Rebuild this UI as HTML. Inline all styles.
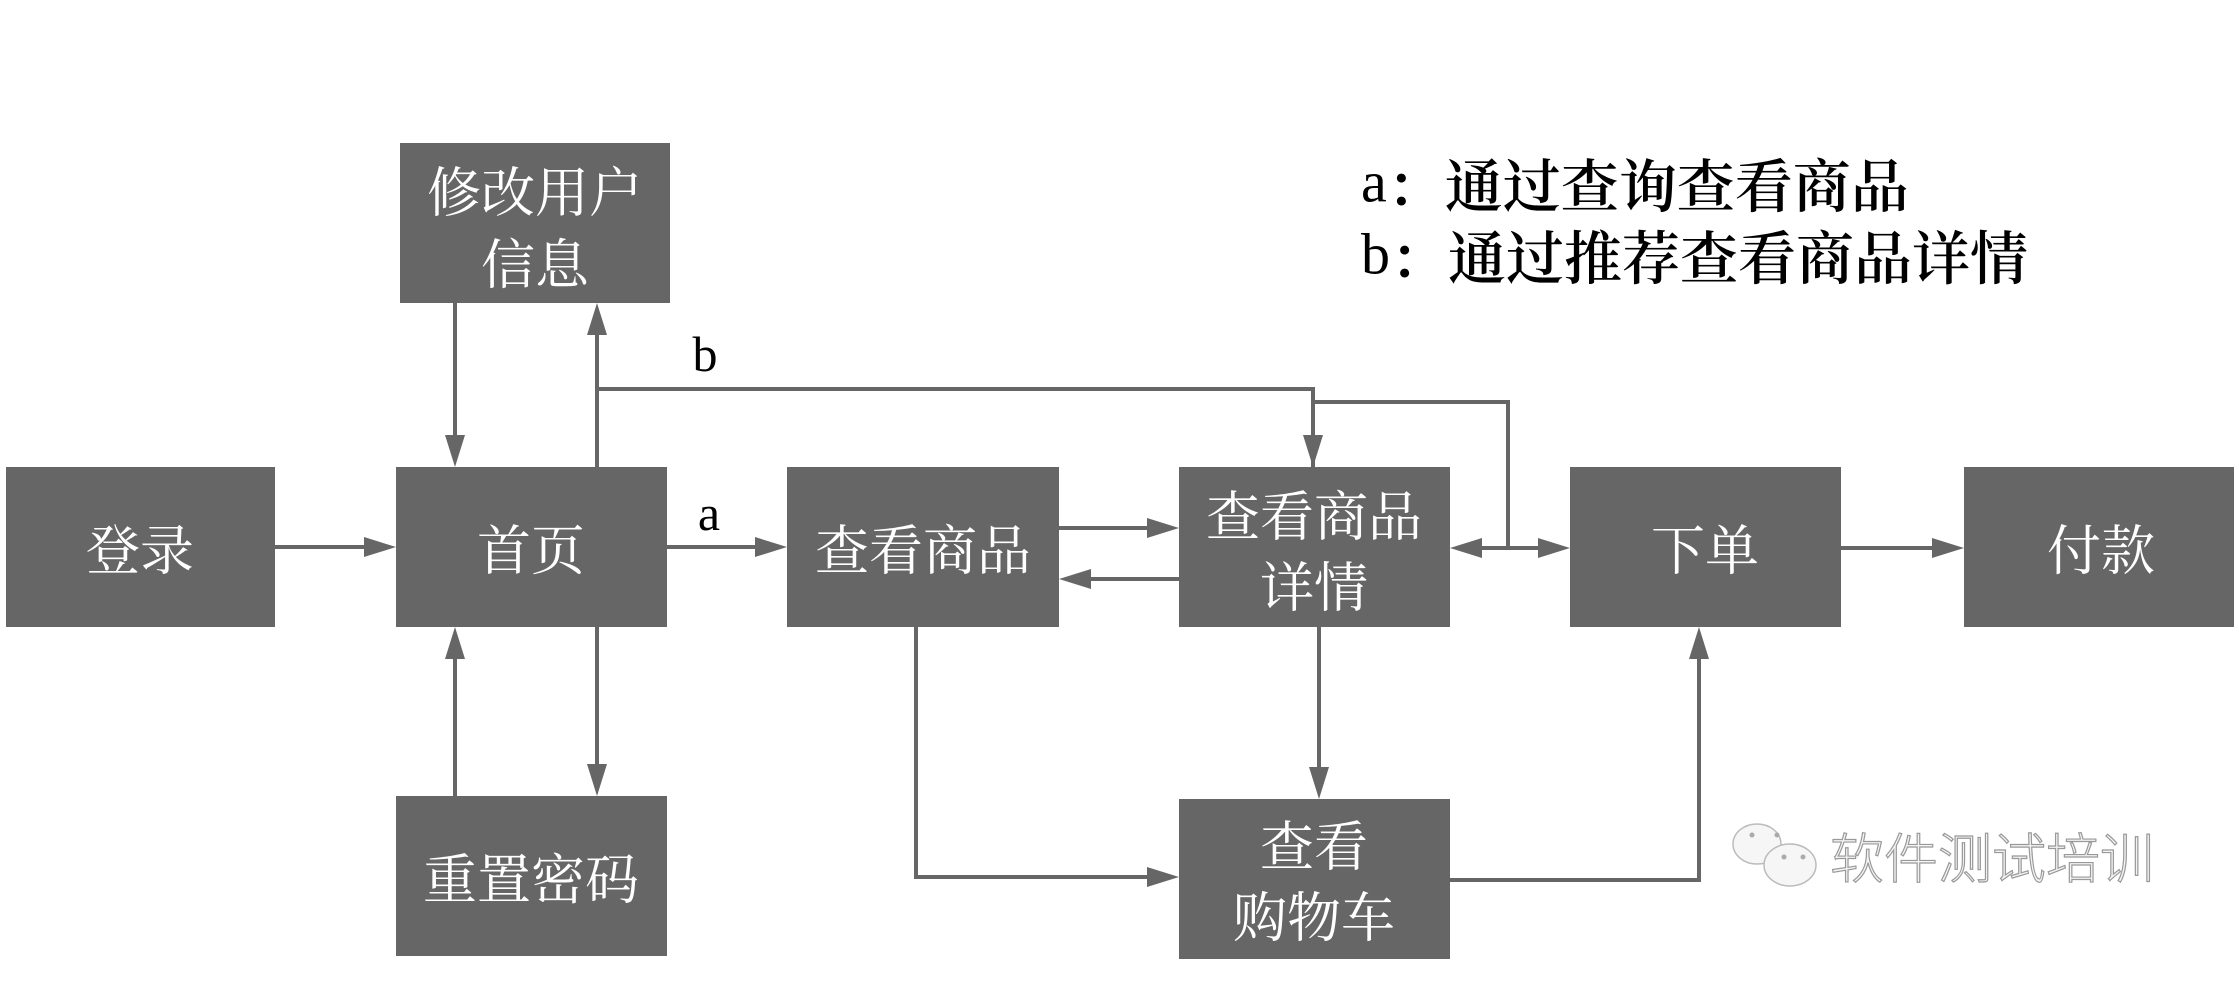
<!DOCTYPE html>
<html><head><meta charset="utf-8"><style>
html,body{margin:0;padding:0;background:#fff;}
svg{display:block;}
.bx{fill:#666;}
.t{fill:#fff;font-family:"Noto Serif CJK SC","Liberation Serif",serif;font-size:54px;text-anchor:middle;dominant-baseline:central;}
.l{stroke:#666;stroke-width:4;fill:none;}
.ah{fill:#666;}
.lg{fill:#000;font-family:"Liberation Serif","Noto Serif CJK SC",serif;font-size:58px;dominant-baseline:central;}
.lg tspan.c{font-family:"Noto Serif CJK SC",serif;font-weight:600;}
.lab{fill:#000;font-family:"Liberation Serif",serif;font-size:50px;text-anchor:middle;dominant-baseline:central;}
</style></head><body>
<svg width="2239" height="994" viewBox="0 0 2239 994" xmlns="http://www.w3.org/2000/svg">
<rect class="bx" x="6" y="467" width="269" height="160"/>
<rect class="bx" x="396" y="467" width="271" height="160"/>
<rect class="bx" x="400" y="143" width="270" height="160"/>
<rect class="bx" x="396" y="796" width="271" height="160"/>
<rect class="bx" x="787" y="467" width="272" height="160"/>
<rect class="bx" x="1179" y="467" width="271" height="160"/>
<rect class="bx" x="1179" y="799" width="271" height="160"/>
<rect class="bx" x="1570" y="467" width="271" height="160"/>
<rect class="bx" x="1964" y="467" width="270" height="160"/>

<text class="t" x="140" y="547">登录</text>
<text class="t" x="531" y="547">首页</text>
<text class="t" x="535" y="189">修改用户</text>
<text class="t" x="535" y="261">信息</text>
<text class="t" x="531" y="876">重置密码</text>
<text class="t" x="923" y="547">查看商品</text>
<text class="t" x="1314" y="513">查看商品</text>
<text class="t" x="1314" y="584">详情</text>
<text class="t" x="1314" y="843">查看</text>
<text class="t" x="1314" y="914">购物车</text>
<text class="t" x="1705" y="547">下单</text>
<text class="t" x="2101" y="547">付款</text>

<line class="l" x1="275" y1="547" x2="370" y2="547"/>
<polygon class="ah" points="396,547 364,537 364,557"/>
<line class="l" x1="455" y1="303" x2="455" y2="440"/>
<polygon class="ah" points="455,467 445,435 465,435"/>
<line class="l" x1="597" y1="467" x2="597" y2="330"/>
<polygon class="ah" points="597,303 587,335 607,335"/>
<line class="l" x1="597" y1="627" x2="597" y2="770"/>
<polygon class="ah" points="597,796 587,764 607,764"/>
<line class="l" x1="455" y1="796" x2="455" y2="654"/>
<polygon class="ah" points="455,627 445,659 465,659"/>
<line class="l" x1="667" y1="547" x2="760" y2="547"/>
<polygon class="ah" points="787,547 755,537 755,557"/>
<polyline class="l" points="597,389 1313,389 1313,440"/>
<polygon class="ah" points="1313,467 1303,435 1323,435"/>
<polyline class="l" points="1313,467 1313,402 1508,402 1508,548"/>
<line class="l" x1="1059" y1="528" x2="1152" y2="528"/>
<polygon class="ah" points="1179,528 1147,518 1147,538"/>
<line class="l" x1="1179" y1="579" x2="1086" y2="579"/>
<polygon class="ah" points="1059,579 1091,569 1091,589"/>
<line class="l" x1="1476" y1="548" x2="1544" y2="548"/>
<polygon class="ah" points="1450,548 1482,538 1482,558"/>
<polygon class="ah" points="1570,548 1538,538 1538,558"/>
<line class="l" x1="1841" y1="548" x2="1938" y2="548"/>
<polygon class="ah" points="1964,548 1932,538 1932,558"/>
<line class="l" x1="1319" y1="627" x2="1319" y2="772"/>
<polygon class="ah" points="1319,799 1309,767 1329,767"/>
<polyline class="l" points="916,627 916,877 1152,877"/>
<polygon class="ah" points="1179,877 1147,867 1147,887"/>
<polyline class="l" points="1450,880 1699,880 1699,656"/>
<polygon class="ah" points="1699,627 1689,659 1709,659"/>

<text class="lab" x="709" y="513">a</text>
<text class="lab" x="705" y="354">b</text>

<text class="lg" x="1361" y="182">a<tspan class="c">：通过查询查看商品</tspan></text>
<text class="lg" x="1361" y="254">b<tspan class="c">：通过推荐查看商品详情</tspan></text>

<g fill="#f6f6f6" stroke="#bbb" stroke-width="1.5">
<ellipse cx="1757" cy="844" rx="24" ry="20"/>
<ellipse cx="1790" cy="865" rx="26" ry="21"/>
</g>
<g fill="#aaa"><circle cx="1752" cy="835" r="2.5"/><circle cx="1777" cy="835" r="2.5"/><circle cx="1784" cy="857" r="2.5"/><circle cx="1803" cy="857" r="2.5"/></g>
<text x="1830" y="860" fill="#f4f4f4" stroke="#999" stroke-width="1.2" style="font-family:'Liberation Sans','Noto Sans CJK SC',sans-serif;font-size:54px;font-weight:300;dominant-baseline:central;">软件测试培训</text>
</svg>
</body></html>
